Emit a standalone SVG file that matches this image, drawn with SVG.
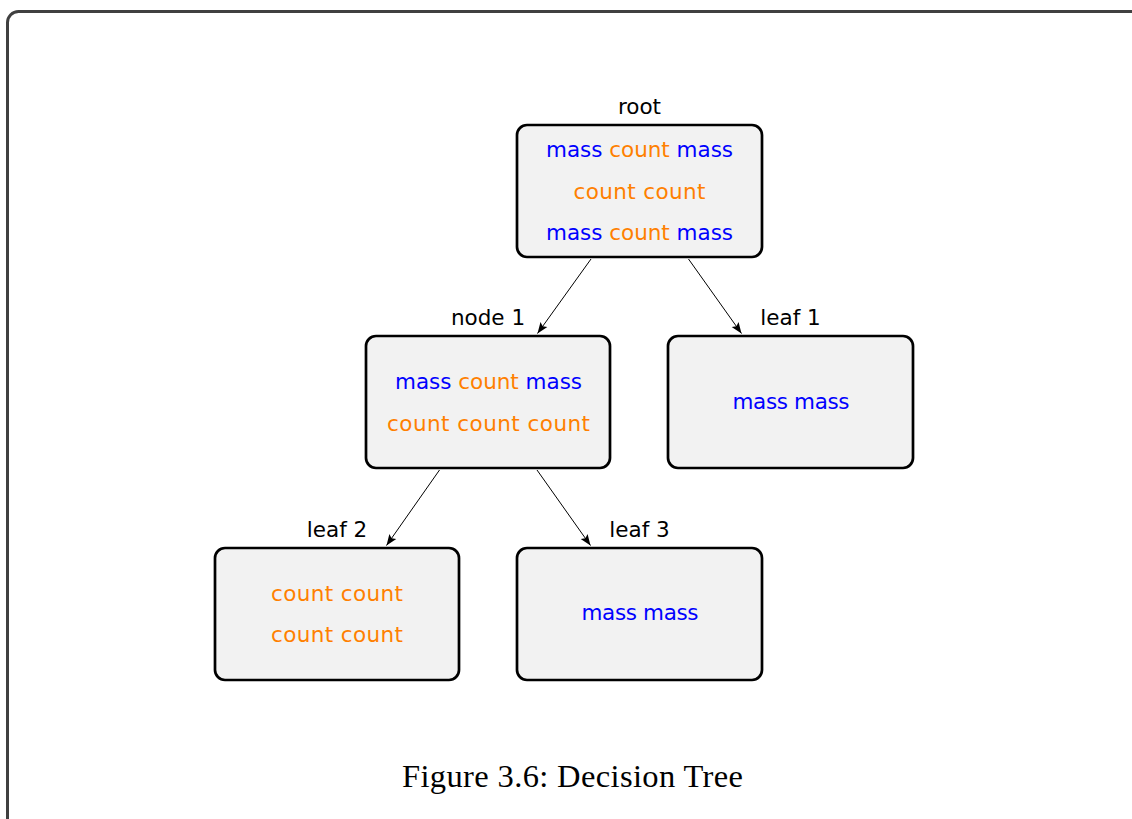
<svg xmlns="http://www.w3.org/2000/svg" width="1132" height="819" viewBox="0 0 1132 819">
<style>
.box{fill:#f2f2f2;stroke:#000;stroke-width:2.7}
.t{font-family:"DejaVu Sans",sans-serif;font-size:21.5px;text-anchor:middle}
.lbl{fill:#000}
.b{fill:#0000ff}
.o{fill:#ff8000}
.edge{stroke:#000;stroke-width:1;fill:none}
.cap{font-family:"Liberation Serif",serif;font-size:32.5px;text-anchor:middle;fill:#000}
</style>
<defs>
<marker id="arr" markerUnits="userSpaceOnUse" markerWidth="12" markerHeight="10" viewBox="0 0 12 10" refX="11" refY="5" orient="auto">
<path d="M0,0.8 L11,5 L0,9.2 L2.2,5 Z" fill="#000"/>
</marker>
</defs>
<rect x="7.5" y="11.5" width="1140" height="830" rx="11" fill="#fff" stroke="#404040" stroke-width="3"/>
<g id="connectors">
<line class="edge" x1="591" y1="259" x2="537.5" y2="333.5" marker-end="url(#arr)"/>
<line class="edge" x1="688.5" y1="259" x2="741.5" y2="333.5" marker-end="url(#arr)"/>
<line class="edge" x1="439.5" y1="470" x2="386.5" y2="545.5" marker-end="url(#arr)"/>
<line class="edge" x1="537" y1="470" x2="590.5" y2="545.5" marker-end="url(#arr)"/>
</g>
<g id="root">
<text class="t lbl" x="639.5" y="114">root</text>
<rect class="box" x="517" y="125" width="245" height="132" rx="10"/>
<text class="t" x="639.5" y="157" textLength="187"><tspan class="b">mass</tspan> <tspan class="o">count</tspan> <tspan class="b">mass</tspan></text>
<text class="t o" x="639.5" y="199" textLength="132">count count</text>
<text class="t" x="639.5" y="240" textLength="187"><tspan class="b">mass</tspan> <tspan class="o">count</tspan> <tspan class="b">mass</tspan></text>
</g>
<g id="node1">
<text class="t lbl" x="488" y="325">node 1</text>
<rect class="box" x="366" y="336" width="244" height="132" rx="10"/>
<text class="t" x="488.5" y="389" textLength="187"><tspan class="b">mass</tspan> <tspan class="o">count</tspan> <tspan class="b">mass</tspan></text>
<text class="t o" x="488.5" y="431" textLength="203">count count count</text>
</g>
<g id="leaf1">
<text class="t lbl" x="790.5" y="325">leaf 1</text>
<rect class="box" x="668" y="336" width="245" height="132" rx="10"/>
<text class="t b" x="791" y="409" textLength="117">mass mass</text>
</g>
<g id="leaf2">
<text class="t lbl" x="337" y="537">leaf 2</text>
<rect class="box" x="215" y="548" width="244" height="132" rx="10"/>
<text class="t o" x="337" y="601" textLength="132">count count</text>
<text class="t o" x="337" y="642" textLength="132">count count</text>
</g>
<g id="leaf3">
<text class="t lbl" x="639.5" y="537">leaf 3</text>
<rect class="box" x="517" y="548" width="245" height="132" rx="10"/>
<text class="t b" x="640" y="620" textLength="117">mass mass</text>
</g>
<text class="cap" x="572.5" y="787" textLength="341">Figure 3.6: Decision Tree</text>
</svg>
